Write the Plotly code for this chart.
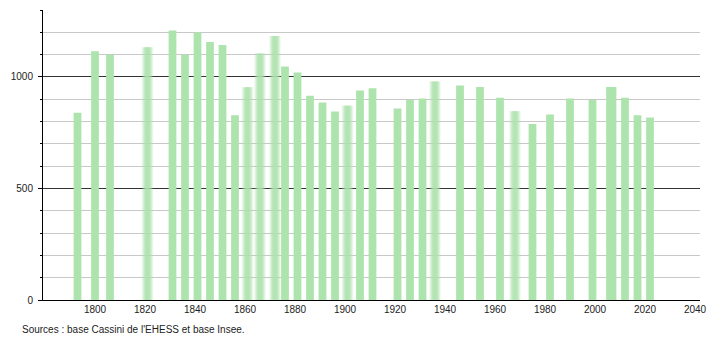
import plotly.graph_objects as go

# Census years and population values
years = [1793, 1800, 1806, 1821, 1831, 1836, 1841, 1846, 1851, 1856,
         1861, 1866, 1872, 1876, 1881, 1886, 1891, 1896, 1901, 1906,
         1911, 1921, 1926, 1931, 1936, 1946, 1954, 1962, 1968, 1975,
         1982, 1990, 1999, 2006, 2007, 2012, 2017, 2022]
population = [839, 1115, 1099, 1133, 1208, 1099, 1199, 1156, 1143, 828,
              954, 1105, 1183, 1047, 1020, 916, 885, 845, 871, 939,
              949, 858, 898, 903, 979, 961, 955, 907, 846, 789,
              831, 903, 898, 955, 955, 907, 828, 818]
# Years drawn with soft (blurred) edges in the reference
soft_years = [1821, 1861, 1866, 1872, 1901, 1936, 1968]

x_ticks = [1800, 1820, 1840, 1860, 1880, 1900, 1920, 1940, 1960, 1980, 2000, 2020, 2040]
y_ticks = [0, 500, 1000]
source_text = "Sources : base Cassini de l'EHESS et base Insee."

BAR = "#ade3ad"
BAR_W = 3.1

sharp_x = [y for y in years if y not in soft_years]
sharp_v = [v for y, v in zip(years, population) if y not in soft_years]
soft_x = [y for y in years if y in soft_years]
soft_v = [v for y, v in zip(years, population) if y in soft_years]

fig = go.Figure()
fig.add_trace(go.Bar(x=sharp_x, y=sharp_v, width=BAR_W, marker_color=BAR,
                     marker_line_width=0, hoverinfo="x+y"))
# soft bars: layered translucent bars of growing width
for w, op in [(1.4, 0.5), (2.2, 0.45), (3.0, 0.4), (3.8, 0.3), (4.6, 0.2)]:
    fig.add_trace(go.Bar(x=soft_x, y=soft_v, width=w, marker_color=BAR,
                         opacity=op, marker_line_width=0, hoverinfo="x+y"))

fig.update_layout(
    width=710, height=340,
    margin=dict(l=43, r=10, t=10, b=40, autoexpand=False),
    paper_bgcolor="white", plot_bgcolor="white",
    barmode="overlay", showlegend=False,
    font=dict(family="Liberation Sans, Arial, sans-serif", size=10, color="#222"),
    xaxis=dict(range=[1779.2, 2042], tickvals=x_ticks, showgrid=False,
               zeroline=False, showline=True, linecolor="#000", linewidth=1,
               ticks="", tickfont=dict(size=10), automargin=False),
    yaxis=dict(range=[0, 1300], tickvals=y_ticks, showgrid=True,
               gridcolor="#333", gridwidth=1, zeroline=False,
               showline=True, linecolor="#000", linewidth=1,
               ticks="outside", ticklen=4, tickcolor="#000",
               ticklabelstandoff=3, tickfont=dict(size=10), automargin=False,
               minor=dict(dtick=100, ticks="outside", ticklen=2,
                          tickcolor="#000", showgrid=True,
                          gridcolor="#c8c8c8", gridwidth=1)),
    annotations=[dict(text=source_text, xref="paper", yref="paper",
                      x=-0.035, y=-0.103, xanchor="left", yanchor="middle",
                      showarrow=False, font=dict(size=10, color="#222"))],
)

fig.write_html("out.html")
